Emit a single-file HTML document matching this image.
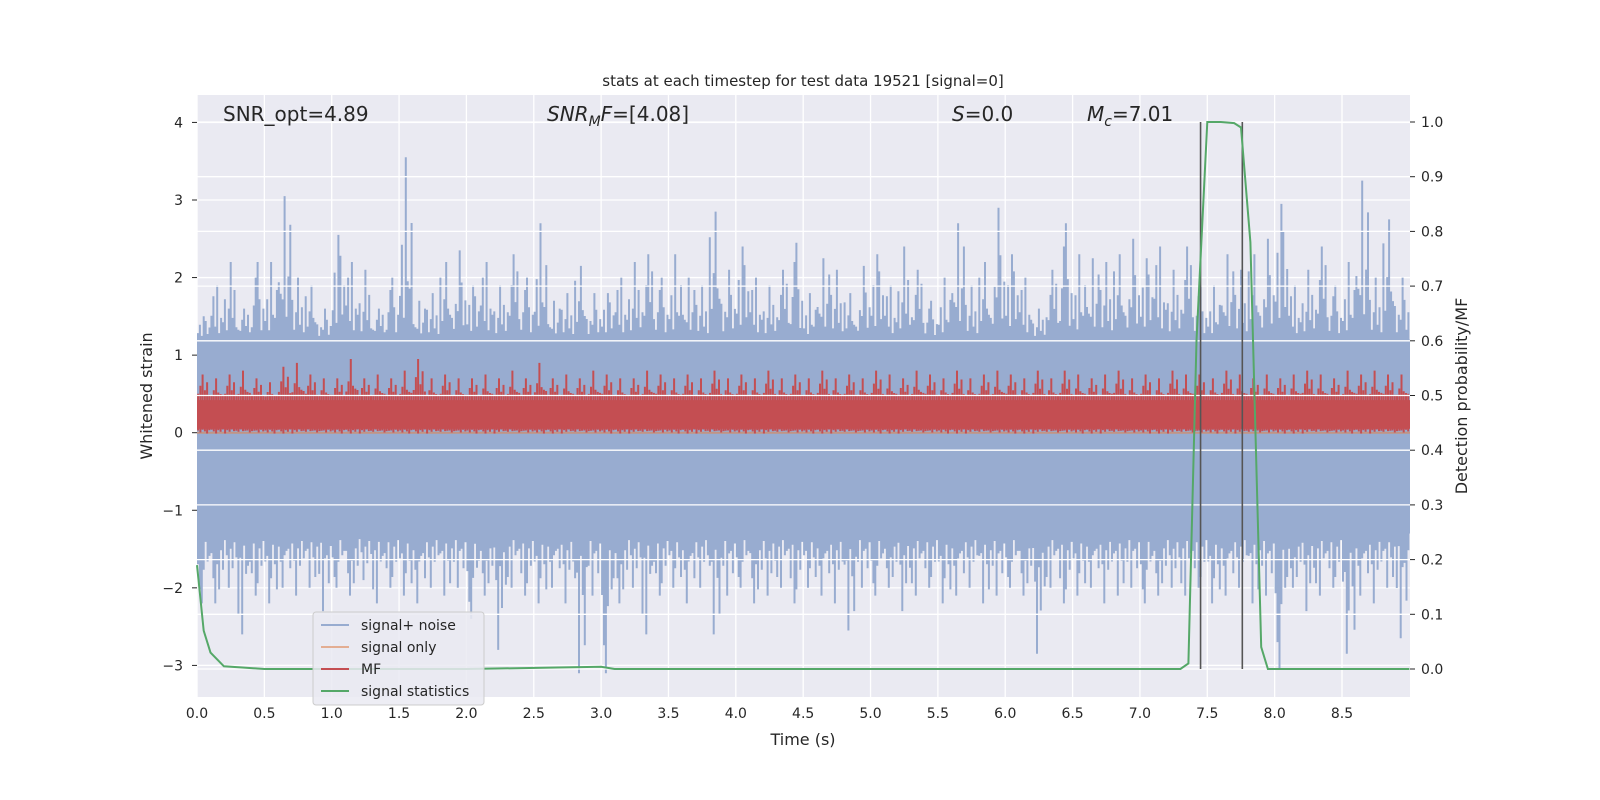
<!DOCTYPE html>
<html><head><meta charset="utf-8"><style>
html,body{margin:0;padding:0;background:#fff;overflow:hidden;width:1600px;height:800px;}
svg{display:block;font-family:"DejaVu Sans","Liberation Sans",sans-serif;}
</style></head><body>
<svg id="chart" width="1600" height="800" viewBox="0 0 1600 800" xmlns="http://www.w3.org/2000/svg">
<rect x="0" y="0" width="1600" height="800" fill="#fff"/>
<rect x="197" y="95" width="1213" height="602" fill="#eaeaf2"/>
<g id="gridL"></g>
<g id="marks"></g>
<g id="gridR"></g>
<g id="green"></g>
<g id="axes"></g>
<text x="803" y="86" font-size="15" text-anchor="middle" fill="#262626">stats at each timestep for test data 19521 [signal=0]</text>
<text x="223" y="121" font-size="20" fill="#262626">SNR_opt=4.89</text>
<text x="547" y="121" font-size="20" fill="#262626"><tspan font-style="italic">SNR</tspan><tspan font-style="italic" font-size="14" dy="5">M</tspan><tspan font-style="italic" dy="-5">F</tspan>=[4.08]</text>
<text x="952" y="121" font-size="20" fill="#262626"><tspan font-style="italic">S</tspan>=0.0</text>
<text x="1087" y="121" font-size="20" fill="#262626"><tspan font-style="italic">M</tspan><tspan font-style="italic" font-size="14" dy="5">c</tspan><tspan dy="-5">=7.01</tspan></text>
<text x="803" y="745" font-size="16" text-anchor="middle" fill="#262626">Time (s)</text>
<text transform="translate(152,396) rotate(-90)" font-size="16" text-anchor="middle" fill="#262626">Whitened strain</text>
<text transform="translate(1467,396) rotate(-90)" font-size="16" text-anchor="middle" fill="#262626">Detection probability/MF</text>
<g>
<rect x="313" y="612" width="171" height="93" rx="3" fill="#eaeaf2" fill-opacity="0.85" stroke="#ccc"/>
<line x1="321" y1="625" x2="349" y2="625" stroke="#98acd0" stroke-width="2"/>
<text x="361" y="630" font-size="14" fill="#262626">signal+ noise</text>
<line x1="321" y1="647" x2="349" y2="647" stroke="#dd8452" stroke-opacity="0.6" stroke-width="2"/>
<text x="361" y="652" font-size="14" fill="#262626">signal only</text>
<line x1="321" y1="669" x2="349" y2="669" stroke="#c44e52" stroke-width="2"/>
<text x="361" y="674" font-size="14" fill="#262626">MF</text>
<line x1="321" y1="691" x2="349" y2="691" stroke="#55a868" stroke-width="2"/>
<text x="361" y="696" font-size="14" fill="#262626">signal statistics</text>
</g>
</svg>
<script>
// ---- data ----
const binTimes = [0.0,0.1,0.2,0.3,0.4,0.5,0.6,0.7,0.8,0.9,1.0,1.1,1.2,1.3,1.4,1.5,1.6,1.7,1.8,1.9,2.0,2.1,2.2,2.3,2.4,2.5,2.6,2.7,2.8,2.9,3.0,3.1,3.2,3.3,3.4,3.5,3.6,3.7,3.8,3.9,4.0,4.1,4.2,4.3,4.4,4.5,4.6,4.7,4.8,4.9,5.0,5.1,5.2,5.3,5.4,5.5,5.6,5.7,5.8,5.9,6.0,6.1,6.2,6.3,6.4,6.5,6.6,6.7,6.8,6.9,7.0,7.1,7.2,7.3,7.4,7.5,7.6,7.7,7.8,7.9,8.0,8.1,8.2,8.3,8.4,8.5,8.6,8.7,8.8,8.9];
const noiseMax = [1.5,1.9,2.2,1.6,2.2,2.2,3.05,2.0,1.9,1.6,2.55,2.2,2.1,1.6,2.0,3.55,1.7,1.8,2.2,2.35,1.9,2.2,1.9,2.3,2.0,2.7,1.7,1.8,2.15,1.8,1.8,2.0,2.2,2.3,2.0,2.3,2.0,1.9,2.85,2.1,2.4,2.0,1.9,2.1,2.45,1.8,2.25,2.1,1.8,2.15,2.3,1.9,2.4,2.1,1.7,2.0,2.7,1.9,2.2,2.9,2.3,2.0,1.6,2.1,2.7,2.3,2.25,2.2,2.3,2.5,2.25,2.4,2.1,2.4,1.9,1.9,2.3,2.1,2.3,2.5,2.95,1.9,2.1,2.4,1.9,2.2,3.25,2.0,2.75,2.0];
const noiseMin = [-2.2,-2.2,-2.0,-2.6,-2.1,-2.2,-2.0,-2.1,-2.0,-2.3,-2.0,-2.1,-1.9,-2.2,-2.0,-2.1,-2.2,-2.0,-2.1,-2.0,-2.4,-2.1,-2.8,-2.0,-2.1,-2.2,-2.0,-2.2,-3.1,-2.1,-3.1,-2.2,-2.0,-2.6,-2.1,-2.0,-2.2,-2.0,-2.6,-2.1,-2.0,-2.2,-2.1,-2.0,-2.2,-2.0,-2.1,-2.2,-2.55,-2.0,-2.1,-2.0,-2.3,-2.1,-2.0,-2.2,-2.1,-2.0,-2.2,-2.1,-2.0,-2.1,-2.85,-2.0,-2.2,-2.1,-2.0,-2.2,-2.1,-2.0,-2.2,-2.1,-2.0,-2.1,-2.0,-2.2,-2.1,-2.0,-2.2,-2.1,-3.05,-2.0,-2.3,-2.1,-2.0,-2.85,-2.1,-2.2,-2.0,-2.65];
const mfMax = [0.75,0.7,0.75,0.8,0.7,0.65,0.85,0.9,0.75,0.7,0.7,0.95,0.7,0.75,0.7,0.8,0.95,0.7,0.75,0.7,0.7,0.75,0.7,0.8,0.7,0.9,0.7,0.75,0.7,0.8,0.75,0.7,0.7,0.8,0.75,0.7,0.75,0.7,0.8,0.7,0.75,0.7,0.8,0.7,0.75,0.7,0.8,0.7,0.75,0.7,0.8,0.75,0.7,0.8,0.75,0.7,0.8,0.7,0.75,0.8,0.75,0.7,0.8,0.7,0.8,0.75,0.7,0.75,0.8,0.7,0.75,0.7,0.8,0.75,0.75,0.7,0.8,0.75,0.7,0.75,0.7,0.75,0.8,0.75,0.7,0.8,0.75,0.8,0.75,0.75];
const statTimes = [0.0,0.05,0.1,0.2,0.5,1.0,2.0,3.0,3.1,5.0,7.0,7.3,7.36,7.42,7.5,7.6,7.7,7.75,7.82,7.9,7.95,8.0,9.0];
const statVals = [0.19,0.07,0.03,0.005,0.0,0.0,0.0,0.004,0.0,0.0,0.0,0.0,0.01,0.6,1.0,1.0,0.998,0.99,0.78,0.04,0.0,0.0,0.0];
const vlineTimes = [7.45,7.76];
const xTicks = [0,0.5,1.0,1.5,2.0,2.5,3.0,3.5,4.0,4.5,5.0,5.5,6.0,6.5,7.0,7.5,8.0,8.5];
const yTicksL = [-3,-2,-1,0,1,2,3,4];
const yTicksR = [0.0,0.1,0.2,0.3,0.4,0.5,0.6,0.7,0.8,0.9,1.0];
// texture pattern (relative spike heights within a bin)
const texture = [0.35,0.8,0.2,0.55,1.0,0.3,0.65,0.15,0.5,0.4];

const NS='http://www.w3.org/2000/svg';
const X0=197,X1=1410,Y0=95,Y1=697;
const xs=t=>X0+t*(1342-197)/8.5;
const yL=v=>432.7-v*77.57;
const yR=v=>669-v*547;
function mk(tag,attrs,parent){const e=document.createElementNS(NS,tag);for(const k in attrs)e.setAttribute(k,attrs[k]);parent.appendChild(e);return e;}
const gL=document.getElementById('gridL'),gR=document.getElementById('gridR'),marks=document.getElementById('marks'),green=document.getElementById('green'),axes=document.getElementById('axes');

xTicks.forEach(t=>{const l=mk('line',{x1:xs(t),x2:xs(t),y1:Y0,y2:Y1,stroke:'#fff','stroke-width':1.3},gL);


const tx=mk('text',{x:xs(t),y:Y1+21,'font-size':14,'text-anchor':'middle',fill:'#262626'},axes);tx.textContent=t.toFixed(1);

});
yTicksL.forEach(v=>{const l=mk('line',{x1:X0,x2:X1,y1:yL(v),y2:yL(v),stroke:'#fff','stroke-width':1.3},gL);


mk('line',{x1:X0-5,x2:X0,y1:yL(v),y2:yL(v),stroke:'#262626','stroke-width':1},axes);
const tx=mk('text',{x:X0-14,y:yL(v)+5,'font-size':14,'text-anchor':'end',fill:'#262626'},axes);tx.textContent=v<0?'\u2212'+(-v):String(v);

});
yTicksR.forEach(v=>{const l=mk('line',{x1:X0,x2:X1,y1:yR(v),y2:yR(v),stroke:'#fff','stroke-width':1.3},gR);


mk('line',{x1:X1,x2:X1+5,y1:yR(v),y2:yR(v),stroke:'#262626','stroke-width':1},axes);
const tx=mk('text',{x:X1+11,y:yR(v)+5,'font-size':14,fill:'#262626'},axes);tx.textContent=v.toFixed(1);

});

// noise band
const noiseG=mk('g',{stroke:'#98acd0','stroke-width':2},marks);


mk('rect',{x:X0,y:yL(1.2),width:X1-X0,height:yL(-1.3)-yL(1.2),fill:'#98acd0',stroke:'none'},noiseG);
let d='';
binTimes.forEach((t,i)=>{const xa=xs(t),xb=xs(t+0.1);const n=7;
for(let k=0;k<n;k++){const x=xa+(xb-xa)*(k+0.5)/n;const f=texture[(i*3+k)%texture.length];const f2=texture[(i*7+k+3)%texture.length];
const up=k===3?noiseMax[i]:1.2+(noiseMax[i]-1.2)*f*0.8;
const dn=k===2?noiseMin[i]:-1.3+(noiseMin[i]+1.3)*f2*0.8;
d+=`M${x.toFixed(1)},${yL(1.1).toFixed(1)}V${yL(up).toFixed(1)}M${x.toFixed(1)},${yL(-1.2).toFixed(1)}V${yL(dn).toFixed(1)}`;}});
mk('path',{d:d,fill:'none'},noiseG);
// signal only
const so=mk('line',{x1:X0,x2:X1,y1:yL(0),y2:yL(0),stroke:'#dd8452','stroke-opacity':0.6,'stroke-width':2},marks);


// MF
const mfG=mk('g',{stroke:'#c44e52','stroke-width':2},marks);


mk('rect',{x:X0,y:yL(0.42),width:X1-X0,height:yL(0.05)-yL(0.42),fill:'#c44e52',stroke:'none'},mfG);
let dm='';
binTimes.forEach((t,i)=>{const xa=xs(t),xb=xs(t+0.1);const n=6;
for(let k=0;k<n;k++){const x=xa+(xb-xa)*(k+0.5)/n;const f=texture[(i*5+k)%texture.length];
const up=k===2?mfMax[i]:0.42+(mfMax[i]-0.42)*f*0.7;const dn=0.05-0.06*texture[(i*2+k)%texture.length];
dm+=`M${x.toFixed(1)},${yL(0.4).toFixed(1)}V${yL(up).toFixed(1)}M${x.toFixed(1)},${yL(0.1).toFixed(1)}V${yL(dn).toFixed(1)}`;}});
mk('path',{d:dm,fill:'none'},mfG);
// vertical lines
vlineTimes.forEach(t=>{const l=mk('line',{x1:xs(t),x2:xs(t),y1:yR(1.0),y2:yR(0),stroke:'#555','stroke-width':1.6},green);

});
// green line
const pts=statTimes.map((t,i)=>xs(t).toFixed(1)+','+yR(statVals[i]).toFixed(1)).join(' ');
const gl=mk('polyline',{points:pts,fill:'none',stroke:'#55a868','stroke-width':2},green);


</script>
</body></html>
